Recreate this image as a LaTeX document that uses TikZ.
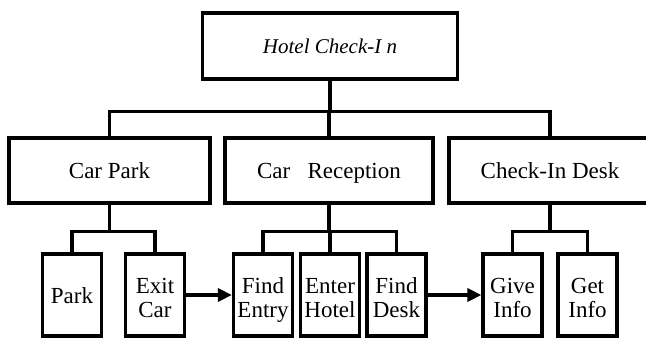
\documentclass[tikz,border=0pt]{standalone}
\usepackage{fontspec}
\setmainfont{Liberation Serif}
\usetikzlibrary{positioning,calc,arrows.meta}

\begin{document}
\begin{tikzpicture}[x=1pt,y=-1pt,
  box/.style={draw,line width=3.2pt,minimum height=65pt,inner sep=0pt,text height=15pt,text depth=0pt,font=\fontsize{23}{24}\selectfont},
  leaf/.style={draw,line width=3.2pt,minimum width=59pt,minimum height=82pt,inner sep=0pt,align=center,text height=44pt,text depth=0pt,font=\fontsize{23}{24}\selectfont},
  link/.style={line width=3.2pt},
  flow/.style={line width=3.4pt,-{Triangle[length=14pt,width=13pt]}}]
\useasboundingbox (0,0) rectangle (646,338);
% top of the tree
\node[box,minimum width=255pt,minimum height=66pt,font=\itshape\fontsize{21}{24}\selectfont] (hotel) at (330,46) {Hotel Check-I n};
% second level
\node[box,minimum width=201pt] (carpark) at (109.5,170.5) {Car Park};
\node[box,minimum width=208pt] (carrec) at (329,170.5) {Car~~~Reception};
\node[box,minimum width=202pt] (desk) at (550,170.5) {Check-In Desk};
% third level
\node[leaf,text height=16pt] (park) at (72,295) {Park};
\node[leaf] (exitcar) at (155,295) {Exit\\Car};
\node[leaf] (findentry) at (263,295) {Find\\Entry};
\node[leaf] (enterhotel) at (330,295) {Enter\\Hotel};
\node[leaf] (finddesk) at (396.5,295) {Find\\Desk};
\node[leaf] (giveinfo) at (512.5,295) {Give\\Info};
\node[leaf] (getinfo) at (587.5,295) {Get\\Info};
% tree lines
\draw[link] (hotel.south) -- ++(0,31) coordinate (topbus);
\draw[link] (topbus) -| (carpark.north);
\draw[link] (topbus) -| (carrec.north);
\draw[link] (topbus) -| (desk.north);
\draw[link] (carpark.south) -- ++(0,27) coordinate (parkbus);
\draw[link] (parkbus) -| (park.north);
\draw[link] (parkbus) -| (exitcar.north);
\draw[link] (carrec.south) -- ++(0,27) coordinate (recbus);
\draw[link] (recbus) -| (findentry.north);
\draw[link] (recbus) -| (enterhotel.north);
\draw[link] (recbus) -| (finddesk.north);
\draw[link] (desk.south) -- ++(0,27) coordinate (deskbus);
\draw[link] (deskbus) -| (giveinfo.north);
\draw[link] (deskbus) -| (getinfo.north);
% sequence arrows
\draw[flow] (exitcar.east) -- (findentry.west);
\draw[flow] (finddesk.east) -- (giveinfo.west);
\end{tikzpicture}
\end{document}
